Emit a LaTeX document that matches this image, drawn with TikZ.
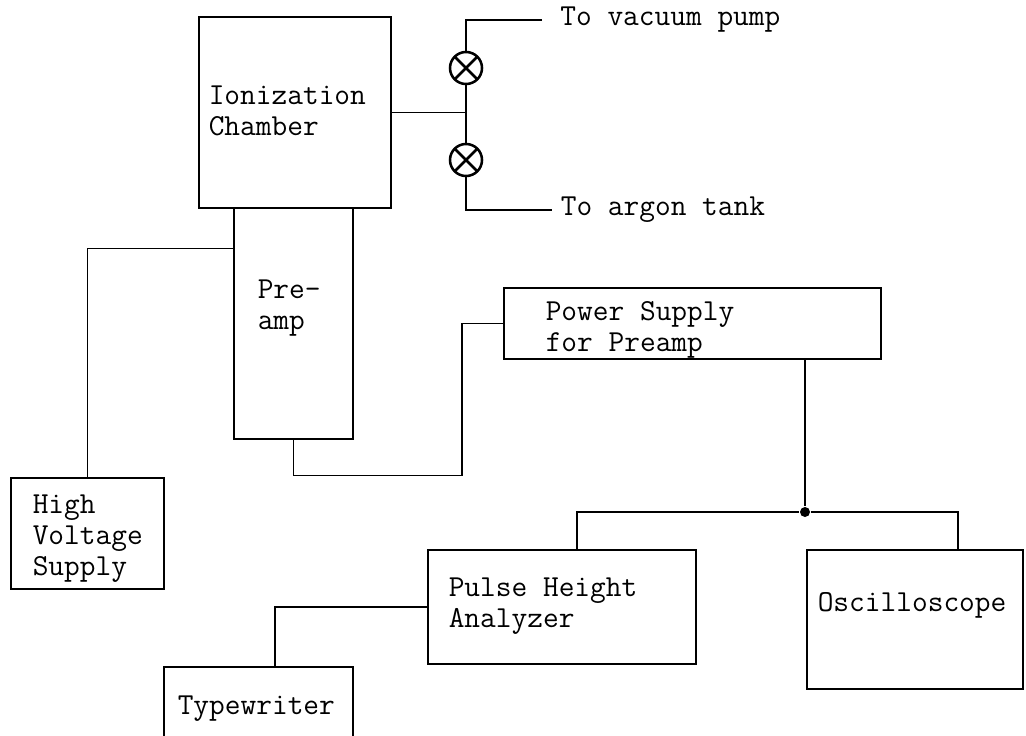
\documentclass[tikz,border=0pt]{standalone}
\usetikzlibrary{calc}

\begin{document}
\begin{tikzpicture}[x=0.025cm, y=-0.025cm, line width=1.1pt,
    every node/.style={font=\ttfamily\fontsize{21.7}{22}\selectfont},
    unit/.style={draw, line width=1.6pt, inner sep=0pt, anchor=north west},
    txt/.style={inner sep=0pt, anchor=north west, align=left},
    lbl/.style={inner ysep=0pt, anchor=west},
    valve/.style={draw, circle, line width=1.8pt, minimum size=0.8cm, inner sep=0pt,
      path picture={\draw[line width=1.8pt]
        (path picture bounding box.north west) -- (path picture bounding box.south east)
        (path picture bounding box.north east) -- (path picture bounding box.south west);}},
    jdot/.style={circle, fill, minimum size=0.25cm, inner sep=0pt}]
    \useasboundingbox (0,0) rectangle (1026,736);
    \clip (0,0) rectangle (1026,736);
    \node[unit, minimum width=4.8cm, minimum height=4.775cm] (chamber) at (198,16) {};
    \node[unit, minimum width=2.975cm, minimum height=5.775cm] (preamp) at (233,207) {};
    \node[unit, minimum width=3.825cm, minimum height=2.775cm] (hv) at (10,477) {};
    \node[unit, minimum width=9.425cm, minimum height=1.775cm] (psupply) at (503,287) {};
    \node[unit, minimum width=6.7cm, minimum height=2.85cm] (pha) at (427,549) {};
    \node[unit, minimum width=5.4cm, minimum height=3.475cm] (scope) at (806,549) {};
    \node[unit, minimum width=4.725cm, minimum height=2.5cm] (typer) at (163,666) {};
    \node[txt] (chamber-t) at (208,85) {Ionization\\Chamber};
    \node[txt] (preamp-t) at (257,279) {Pre-\\amp};
    \node[txt] (psupply-t) at (545,301) {Power Supply\\for Preamp};
    \node[txt] (hv-t) at (32,494) {High\\Voltage\\Supply};
    \node[txt] (pha-t) at (448,577) {Pulse Height\\Analyzer};
    \node[txt] (scope-t) at (817,592) {Oscilloscope};
    \node[txt] (typer-t) at (177,695) {Typewriter};
    \foreach \n/\y in {v1/68, v2/160}
      \node[valve] (\n) at (466,\y) {};
    \node[lbl, inner xsep=12.5pt] (vac) at (542,20) {To vacuum pump};
    \node[lbl, inner xsep=5.7pt] (argon) at (552,210) {To argon tank};
    \draw (vac.west) -| (v1.north);
    \draw (v1.south) -- (v2.north);
    \draw (v2.south) |- (argon.west);
    \draw (chamber.east) -- (chamber.east -| v1);
    \draw (hv.north) |- ($(preamp.north west)!0.177!(preamp.south west)$);
    \draw (preamp.south) -- ++(0,35) -| ($(psupply.west)+(-41,0)$) -- (psupply.west);
    \node[jdot] (jn) at (805,512) {};
    \draw (psupply.south -| jn) -- (jn);
    \draw ($(pha.north west)+(150,0)$) |- (jn) -| ($(scope.north west)+(152,0)$);
    \draw (pha.west) -| ($(typer.north west)+(112,0)$);
  \end{tikzpicture}
\end{document}
